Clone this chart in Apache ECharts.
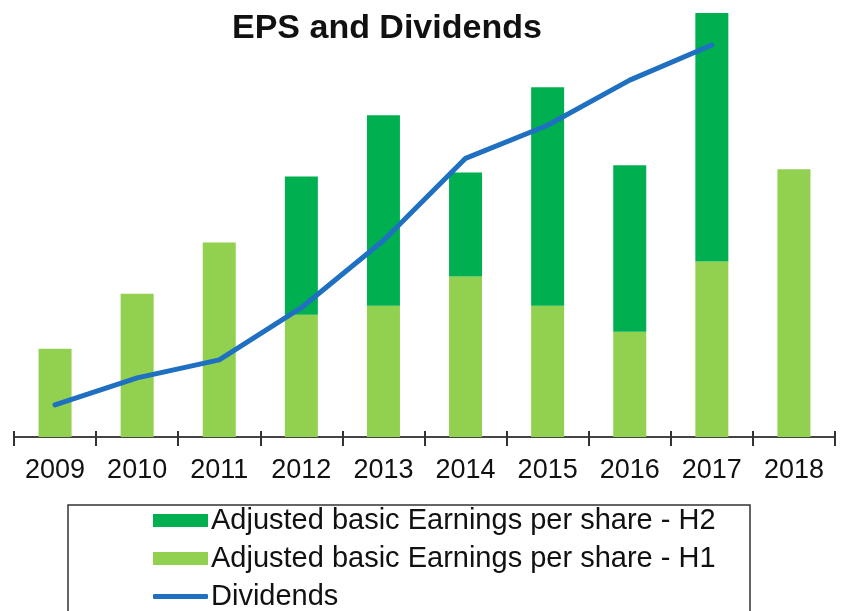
<!DOCTYPE html>
<html>
<head>
<meta charset="utf-8">
<script src="https://cdn.jsdelivr.net/npm/echarts@6/dist/echarts.min.js"></script>
<style>
  html, body { margin: 0; padding: 0; background: #fff; }
  #chart { width: 842px; height: 611px; }
</style>
</head>
<body>
<div id="chart"></div>
<script>
// values (no y axis shown, arbitrary units)
var years = ['2009', '2010', '2011', '2012', '2013', '2014', '2015', '2016', '2017', '2018'];
var epsH1 = [88, 143, 194, 122, 131, 160, 131, 105, 175, 267];
var epsH2 = ['-', '-', '-', 138, 190, 104, 218, 166, 248, '-'];
var dividends = [32, 59, 77, 129, 196, 278, 311, 356, 391, '-'];

var nameH1 = 'Adjusted basic Earnings per share - H1';
var nameH2 = 'Adjusted basic Earnings per share - H2';
var nameDiv = 'Dividends';

var font = 'Liberation Sans, Arial, sans-serif';

var dom = document.getElementById('chart');
var myChart = echarts.init(dom, null, { renderer: 'canvas' });

// one legend per row so they stack like the reference
function legendRow(name, top, icon, h) {
    return {
        orient: 'vertical',
        left: 153,
        top: top,
        padding: 0,
        data: [{ name: name, icon: icon }],
        itemWidth: 55,
        itemHeight: h,
        textStyle: { fontFamily: font, fontSize: 29, color: '#111', padding: [0, 0, 0, -2] }
    };
}

var option = {
    animation: false,
    title: {
        text: 'EPS and Dividends',
        left: 232,
        top: 12,
        padding: 0,
        textStyle: {
            fontFamily: font,
            fontWeight: 'bold',
            fontSize: 34,
            color: '#111'
        }
    },
    graphic: [{
        type: 'rect',
        shape: { x: 68, y: 505, width: 682, height: 130 },
        style: { fill: 'none', stroke: '#333', lineWidth: 1.5 }
    }],
    legend: [
        legendRow(nameH2, 506, 'rect', 13),
        legendRow(nameH1, 544, 'rect', 13),
        legendRow(nameDiv, 582, 'roundRect', 5)
    ],
    grid: {
        left: 14,
        right: 7,
        top: 13,
        bottom: 174
    },
    xAxis: [
        {
            type: 'category',
            data: years,
            axisLine: { lineStyle: { color: '#444', width: 2 } },
            axisTick: { show: true, length: 9, lineStyle: { color: '#333', width: 2 } },
            axisLabel: {
                margin: 20,
                fontFamily: font,
                fontSize: 27,
                color: '#111'
            }
        },
        {
            // second axis only for the ticks that go up through the line
            type: 'category',
            position: 'bottom',
            data: years,
            axisLine: { show: false },
            axisTick: { show: true, inside: true, length: 6, lineStyle: { color: '#333', width: 2 } },
            axisLabel: { show: false }
        }
    ],
    yAxis: {
        type: 'value',
        show: false,
        min: 0,
        max: 423
    },
    series: [
        {
            name: nameH1,
            type: 'bar',
            stack: 'eps',
            barWidth: 33,
            data: epsH1,
            itemStyle: { color: '#92D050' }
        },
        {
            name: nameH2,
            type: 'bar',
            stack: 'eps',
            barWidth: 33,
            data: epsH2,
            itemStyle: { color: '#00B050' }
        },
        {
            name: nameDiv,
            type: 'line',
            data: dividends,
            symbol: 'none',
            lineStyle: { color: '#1F70C1', width: 5, cap: 'round', join: 'round' },
            itemStyle: { color: '#1F70C1' }
        }
    ]
};

myChart.setOption(option);
</script>
</body>
</html>
